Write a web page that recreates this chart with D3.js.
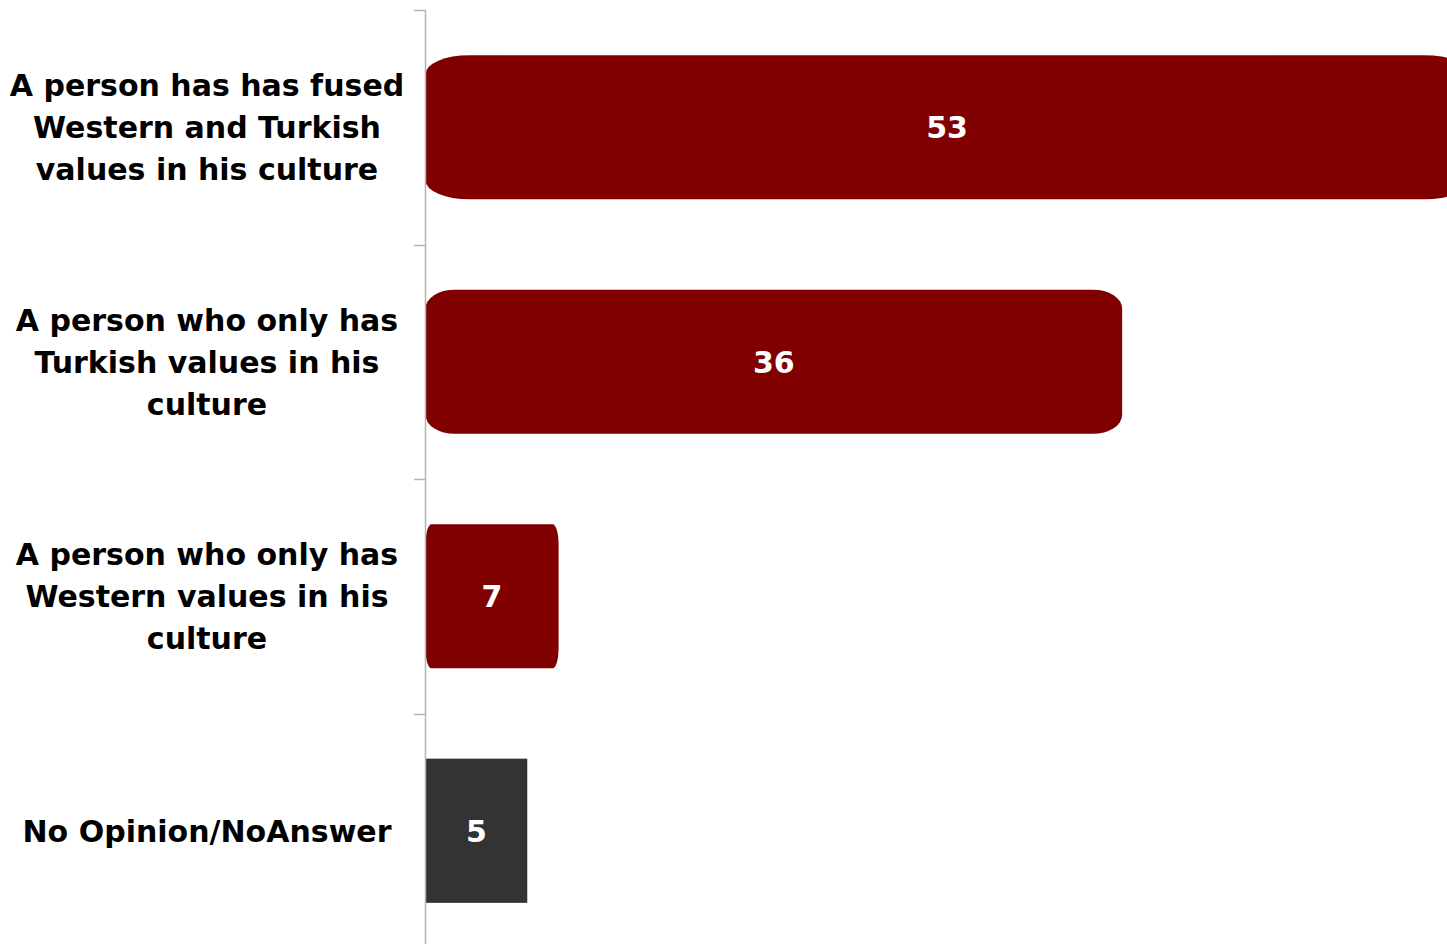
<!DOCTYPE html>
<html><head><meta charset="utf-8">
<script src="https://cdn.jsdelivr.net/npm/d3@7"></script>
<style>body{margin:0;background:#fff;}svg{display:block;}</style>
</head><body>
<script>
const categories = [
  ["A person has has fused", "Western and Turkish", "values in his culture"],
  ["A person who only has", "Turkish values in his", "culture"],
  ["A person who only has", "Western values in his", "culture"],
  ["No Opinion/NoAnswer"]
];
const values = [53.3, 35.6, 6.8, 5.2];
const valueLabels = ["53", "36", "7", "5"];

const W = 1447, H = 944;
const svg = d3.select("body").append("svg").attr("width", W).attr("height", H);

const ids = d3.range(values.length);
const y = d3.scaleBand().domain(ids).range([10, 948]).paddingInner(0.385).paddingOuter(0.1925);
const x = d3.scaleLinear().domain([0, 52.2]).range([425.5, 1447]);
const color = d3.scaleOrdinal().domain(ids).range(["#800000", "#800000", "#800000", "#333333"]);
const font = "'DejaVu Sans', Verdana, sans-serif";

// bars
ids.forEach(i => {
  const w = x(values[i]) - x(0);
  const rounded = i < 3;
  svg.append("rect")
    .attr("x", x(0)).attr("y", y(i))
    .attr("width", w).attr("height", y.bandwidth())
    .attr("rx", rounded ? Math.max(6, w * 0.042) : 0)
    .attr("ry", rounded ? 19 : 0)
    .attr("fill", color(i));
  svg.append("text")
    .attr("x", x(0) + w / 2).attr("y", y(i) + y.bandwidth() / 2)
    .attr("dy", "0.36em").attr("text-anchor", "middle")
    .attr("fill", "#fff").attr("font-family", font).attr("font-weight", "bold")
    .attr("font-size", 30).text(valueLabels[i]);
});

// axis
const step = y.step();
const g = svg.append("g");
g.append("line").attr("x1", 425.5).attr("x2", 425.5).attr("y1", 10).attr("y2", H)
  .attr("stroke", "#b4b4b4").attr("stroke-width", 1.5);
d3.range(values.length).forEach(i => {
  const ty = Math.round(10 + i * step) + 0.5;
  g.append("line").attr("x1", 414).attr("x2", 425.5).attr("y1", ty).attr("y2", ty)
    .attr("stroke", "#b4b4b4").attr("stroke-width", 1.5);
});

// category labels
ids.forEach(i => {
  const lines = categories[i];
  const cy = y(i) + y.bandwidth() / 2;
  const lh = 42;
  const t = svg.append("text").attr("text-anchor", "middle")
    .attr("font-family", font).attr("font-weight", "bold").attr("font-size", 30)
    .attr("fill", "#000");
  lines.forEach((ln, k) => {
    t.append("tspan").attr("x", 207)
      .attr("y", cy + (k - (lines.length - 1) / 2) * lh)
      .attr("dy", "0.36em").text(ln);
  });
});
</script>
</body></html>
